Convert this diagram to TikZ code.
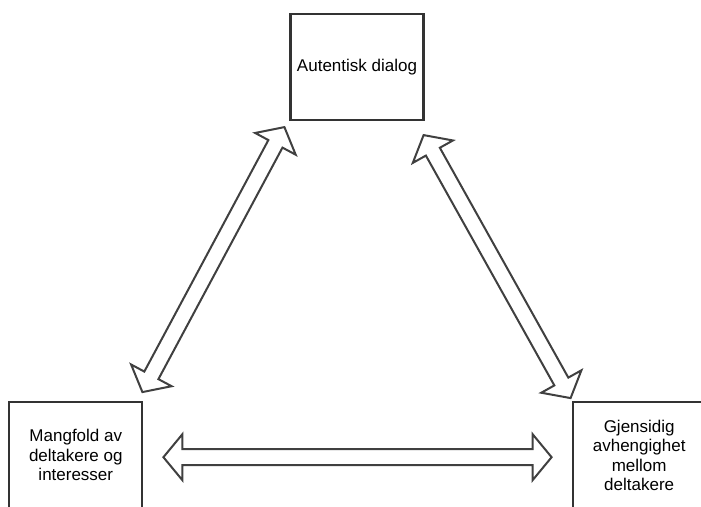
\documentclass[tikz,border=0pt]{standalone}
\usepackage{fontspec}
\setmainfont{Liberation Sans}
\usetikzlibrary{positioning,calc}

% hollow double arrow from #1 to #2
\newcommand{\dobbelpil}[2]{%
	\draw [pil] (#1)
	-- ($(#1)!19pt!(#2)!23pt!90:(#2)$)
	-- ($(#1)!19pt!(#2)!8pt!90:(#2)$)
	-- ($(#2)!19pt!(#1)!8pt!-90:(#1)$)
	-- ($(#2)!19pt!(#1)!23pt!-90:(#1)$)
	-- (#2)
	-- ($(#2)!19pt!(#1)!23pt!90:(#1)$)
	-- ($(#2)!19pt!(#1)!8pt!90:(#1)$)
	-- ($(#1)!19pt!(#2)!8pt!-90:(#2)$)
	-- ($(#1)!19pt!(#2)!23pt!-90:(#2)$)
	-- cycle;}

\begin{document}
\begin{tikzpicture}[
	% Box style
	boks/.style={rectangle,draw=black!80,line width=2.2pt,minimum width=133pt,minimum height=106pt,align=center,text=black,font=\fontsize{17}{19.5}\selectfont},
	% Arrow style
	pil/.style={draw=black!75,line width=2pt,fill=white,line join=miter}
	]
	\useasboundingbox (0,0) rectangle (701pt,506pt);
	\clip (0,0) rectangle (701pt,506pt);
	%% Draw boxes
	\node (dialog) [boks] at (357pt,439pt) {Autentisk dialog};
	\node (mangfold) [boks, below left=280pt and 146pt of dialog] {Mangfold av\\deltakere og\\interesser};
	\node (gjensidig) [boks, below right=280pt and 147pt of dialog] {Gjensidig\\avhengighet\\mellom\\deltakere};
	%% Arrow ends
	\coordinate (v1) at ($(mangfold.north east)+(-1pt,9pt)$);
	\coordinate (v2) at ($(dialog.south west)+(-5pt,-6pt)$);
	\coordinate (r1) at ($(dialog.south east)+(-1pt,-14pt)$);
	\coordinate (r2) at ($(gjensidig.north west)+(-1pt,3pt)$);
	\coordinate (h1) at ($(mangfold.east)+(20pt,-2pt)$);
	\coordinate (h2) at ($(gjensidig.west)+(-20pt,-2pt)$);
	%% Draw arrows
	\dobbelpil{v1}{v2}
	\dobbelpil{r1}{r2}
	\dobbelpil{h1}{h2}
\end{tikzpicture}
\end{document}
